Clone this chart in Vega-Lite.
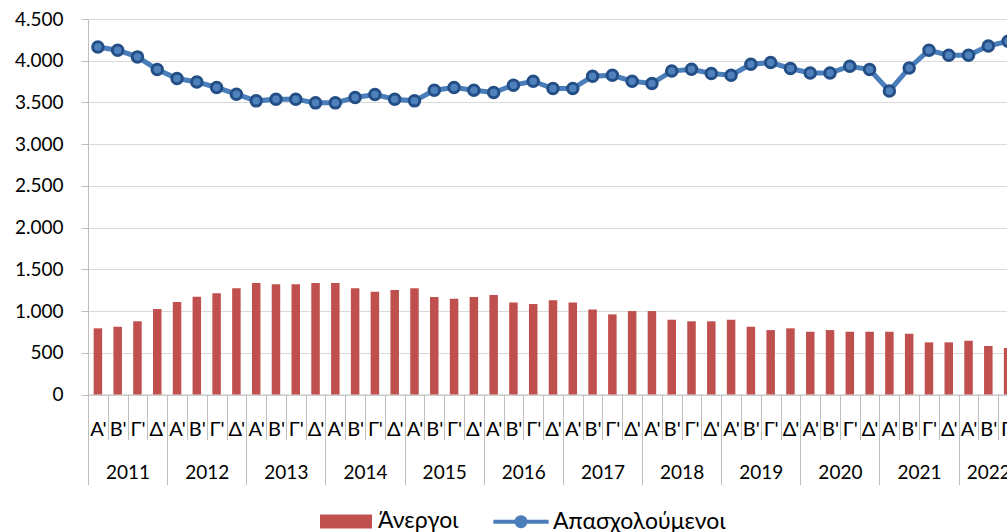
{
  "$schema": "https://vega.github.io/schema/vega-lite/v6.json",
  "autosize": {"type": "none"},
  "padding": {"left": 88, "top": 19, "right": 0, "bottom": 137.5},
  "width": 919,
  "height": 375.5,
  "background": "white",
  "config": {
    "view": {"stroke": null},
    "font": "Lato",
    "axis": {"labelFont": "Lato", "labelColor": "#000000", "labelFontSize": 19, "title": null},
    "axisY": {
      "values": [0, 500, 1000, 1500, 2000, 2500, 3000, 3500, 4000, 4500],
      "grid": true,
      "gridColor": "#d9d9d9",
      "gridWidth": 1,
      "domainColor": "#bfbfbf",
      "tickColor": "#bfbfbf",
      "tickSize": 7,
      "labelPadding": 18,
      "labelExpr": "replace(format(datum.value, ','), ',', '.')"
    }
  },
  "data": {
    "values": [
      {"t": "2011 Α'", "unemp": 793, "emp": 4165},
      {"t": "2011 Β'", "unemp": 812, "emp": 4126},
      {"t": "2011 Γ'", "unemp": 877, "emp": 4046},
      {"t": "2011 Δ'", "unemp": 1024, "emp": 3895},
      {"t": "2012 Α'", "unemp": 1108, "emp": 3787},
      {"t": "2012 Β'", "unemp": 1171, "emp": 3746},
      {"t": "2012 Γ'", "unemp": 1212, "emp": 3679},
      {"t": "2012 Δ'", "unemp": 1272, "emp": 3599},
      {"t": "2013 Α'", "unemp": 1335, "emp": 3519},
      {"t": "2013 Β'", "unemp": 1320, "emp": 3539},
      {"t": "2013 Γ'", "unemp": 1320, "emp": 3539},
      {"t": "2013 Δ'", "unemp": 1335, "emp": 3495},
      {"t": "2014 Α'", "unemp": 1335, "emp": 3495},
      {"t": "2014 Β'", "unemp": 1272, "emp": 3559},
      {"t": "2014 Γ'", "unemp": 1231, "emp": 3595},
      {"t": "2014 Δ'", "unemp": 1251, "emp": 3539},
      {"t": "2015 Α'", "unemp": 1272, "emp": 3519},
      {"t": "2015 Β'", "unemp": 1168, "emp": 3647},
      {"t": "2015 Γ'", "unemp": 1147, "emp": 3679},
      {"t": "2015 Δ'", "unemp": 1168, "emp": 3647},
      {"t": "2016 Α'", "unemp": 1192, "emp": 3619},
      {"t": "2016 Β'", "unemp": 1104, "emp": 3707},
      {"t": "2016 Γ'", "unemp": 1084, "emp": 3754},
      {"t": "2016 Δ'", "unemp": 1128, "emp": 3667},
      {"t": "2017 Α'", "unemp": 1104, "emp": 3667},
      {"t": "2017 Β'", "unemp": 1020, "emp": 3814},
      {"t": "2017 Γ'", "unemp": 960, "emp": 3826},
      {"t": "2017 Δ'", "unemp": 1000, "emp": 3754},
      {"t": "2018 Α'", "unemp": 1000, "emp": 3727},
      {"t": "2018 Β'", "unemp": 896, "emp": 3876},
      {"t": "2018 Γ'", "unemp": 877, "emp": 3898},
      {"t": "2018 Δ'", "unemp": 877, "emp": 3847},
      {"t": "2019 Α'", "unemp": 896, "emp": 3826},
      {"t": "2019 Β'", "unemp": 812, "emp": 3958},
      {"t": "2019 Γ'", "unemp": 772, "emp": 3978},
      {"t": "2019 Δ'", "unemp": 793, "emp": 3907},
      {"t": "2020 Α'", "unemp": 752, "emp": 3854},
      {"t": "2020 Β'", "unemp": 772, "emp": 3854},
      {"t": "2020 Γ'", "unemp": 752, "emp": 3934},
      {"t": "2020 Δ'", "unemp": 752, "emp": 3895},
      {"t": "2021 Α'", "unemp": 752, "emp": 3638},
      {"t": "2021 Β'", "unemp": 728, "emp": 3914},
      {"t": "2021 Γ'", "unemp": 625, "emp": 4126},
      {"t": "2021 Δ'", "unemp": 625, "emp": 4066},
      {"t": "2022 Α'", "unemp": 644, "emp": 4066},
      {"t": "2022 Β'", "unemp": 581, "emp": 4177},
      {"t": "2022 Γ'", "unemp": 557, "emp": 4233}
    ]
  },
  "layer": [
    {
      "mark": {"type": "bar", "width": 8.5},
      "encoding": {
        "x": {
          "field": "t", "type": "nominal", "sort": null,
          "scale": {"range": [0, 930], "paddingInner": 0, "paddingOuter": 0},
          "axis": {
            "orient": "bottom",
            "domain": true, "domainColor": "#bfbfbf",
            "ticks": true, "tickColor": "#bfbfbf", "tickSize": 45, "tickOffset": -9.894,
            "labelAngle": 0, "labelAlign": "center", "labelBaseline": "top", "labelPadding": -20.5, "labelFontSize": 20,
            "labelOffset": 9.894,
            "labelExpr": "split(datum.value, ' ')[1]",
            "grid": false
          }
        },
        "y": {"field": "unemp", "type": "quantitative", "scale": {"domain": [0, 4500]}, "axis": {"title": null}},
        "color": {
          "datum": "Άνεργοι",
          "scale": {"domain": ["Άνεργοι", "Απασχολούμενοι"], "range": ["#c0504d", "#4a7ebb"]},
          "legend": {
            "orient": "none", "legendX": 232, "legendY": 476,
            "direction": "horizontal", "title": null,
            "labelFont": "Lato", "labelFontSize": 23, "labelColor": "#000000", "labelLimit": 400,
            "symbolSize": 2304, "symbolStrokeWidth": 4, "labelOffset": 6, "columnPadding": 26, "padding": 0,
            "encode": {
              "symbols": {
                "update": {
                  "shape": {"signal": "datum.value === 'Άνεργοι' ? 'M-1,-0.21H1V0.21H-1Z' : 'M-1.15,0H-0.19M0.19,0H1.15M0.19,0A0.19,0.19,0,1,1,-0.19,0A0.19,0.19,0,1,1,0.19,0Z'"},
                  "fill": {"signal": "datum.value === 'Άνεργοι' ? '#c0504d' : '#4f81bd'"},
                  "stroke": {"signal": "datum.value === 'Άνεργοι' ? '#c0504d' : '#3b6fae'"},
                  "opacity": {"value": 1}
                }
              }
            }
          }
        }
      }
    },
    {
      "mark": {"type": "line", "strokeWidth": 5},
      "encoding": {
        "x": {
          "field": "t", "type": "nominal", "sort": null,
          "axis": {
            "orient": "bottom",
            "domain": false,
            "ticks": true, "tickColor": "#bfbfbf", "tickSize": 90, "tickOffset": -9.894,
            "tickOpacity": {"condition": {"test": "indexof(datum.value, 'Α') >= 0", "value": 1}, "value": 0},
            "labelAngle": 0, "labelAlign": "center", "labelBaseline": "top", "labelPadding": -21.2,
            "labelOffset": {"condition": {"test": "indexof(datum.value, '2022') >= 0", "value": 9.894}, "value": 19.788},
            "labelExpr": "indexof(datum.value, 'Β') >= 0 ? split(datum.value, ' ')[0] : ''",
            "grid": false
          }
        },
        "y": {"field": "emp", "type": "quantitative", "scale": {"domain": [0, 4500]}, "axis": {"title": null}},
        "color": {"datum": "Απασχολούμενοι"}
      }
    },
    {
      "mark": {"type": "point", "filled": false, "fill": "#4f81bd", "stroke": "#234f86", "strokeWidth": 3, "size": 110, "opacity": 1},
      "encoding": {
        "x": {"field": "t", "type": "nominal", "sort": null, "axis": null},
        "y": {"field": "emp", "type": "quantitative", "scale": {"domain": [0, 4500]}, "axis": {"title": null}}
      }
    }
  ],
  "resolve": {"axis": {"x": "independent"}}
}
